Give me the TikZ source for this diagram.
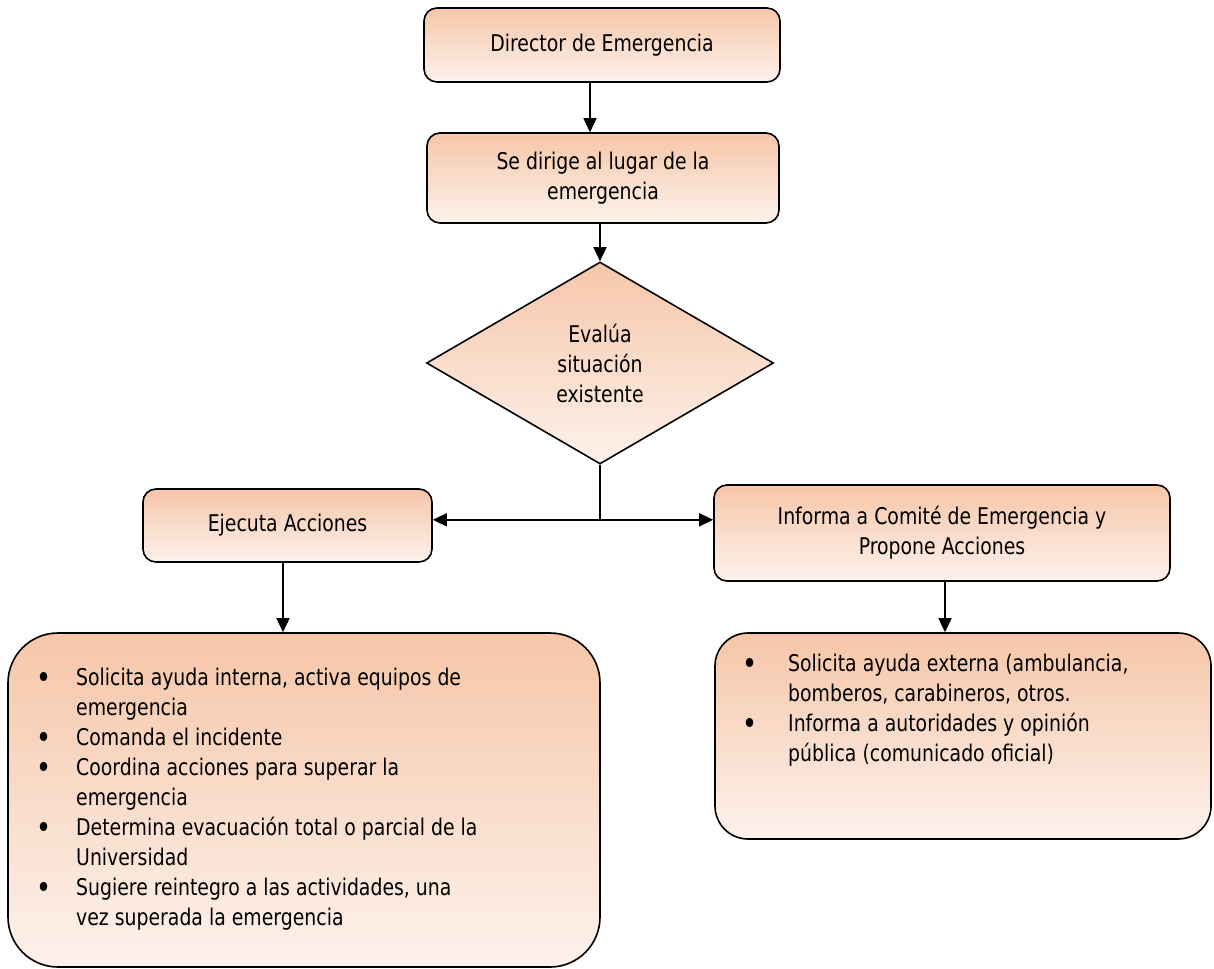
\documentclass[tikz,border=0pt]{standalone}
\usepackage{fontspec}
\setmainfont{DejaVu Sans}[FakeStretch=0.82]
\usetikzlibrary{arrows.meta,calc,positioning,shapes.geometric}

\definecolor{peachtop}{RGB}{246,198,168}
\definecolor{peachbot}{RGB}{253,242,236}

\newcommand{\bul}{\raisebox{-3pt}{\scalebox{1.35}{\textbullet}}}

\tikzset{
    stepbox/.style={draw, line width=1.6pt, rounded corners=13pt,
        top color=peachtop, bottom color=peachbot, align=center,
        inner sep=0pt, font=\fontsize{23pt}{30pt}\selectfont},
    listbox/.style={stepbox, rounded corners=#1},
    listtext/.style={anchor=north west, inner sep=0pt,
        font=\fontsize{23pt}{30pt}\selectfont},
    arr/.style={-{Triangle[length=14pt,width=13pt]}, line width=1.6pt}
}

\begin{document}
\begin{tikzpicture}[x=1pt, y=-1pt]

            % Frame
            \useasboundingbox (0,0) rectangle (1214,968);

            % Top boxes
            \node[stepbox, minimum width=356pt, minimum height=74pt] (director) at (602,45) {Director de Emergencia};
            \node[stepbox, minimum width=352pt, minimum height=90pt] (lugar) at (603,178) {Se dirige al lugar de la\\emergencia};

            % Decision
            \node[draw, diamond, line width=1.6pt, top color=peachtop, bottom color=peachbot,
                minimum width=347pt, minimum height=202pt, inner sep=0pt, align=center,
                font=\fontsize{23pt}{30pt}\selectfont] (evalua) at (600,363) {Evalúa\\situación\\existente};

            % Middle boxes
            \node[stepbox, minimum width=289pt, minimum height=73pt] (ejecuta) at (287.5,525.5) {Ejecuta Acciones};
            \node[stepbox, minimum width=456pt, minimum height=96pt] (informa) at (942,533) {Informa a Comité de Emergencia y\\Propone Acciones};

            % Lower boxes
            \node[listbox=50pt, minimum width=592pt, minimum height=334pt] (interna) at (304,800) {};
            \node[listbox=33pt, minimum width=496pt, minimum height=206pt] (externa) at (963,736) {};

            \node[listtext] (internatxt) at (36,664) {\begin{tabular}{@{}p{40pt}@{}l@{}}
                \bul & Solicita ayuda interna, activa equipos de\\
                     & emergencia\\
                \bul & Comanda el incidente\\
                \bul & Coordina acciones para superar la\\
                     & emergencia\\
                \bul & Determina evacuación total o parcial de la\\
                     & Universidad\\
                \bul & Sugiere reintegro a las actividades, una\\
                     & vez superada la emergencia
            \end{tabular}};

            \node[listtext] (externatxt) at (742,650) {\begin{tabular}{@{}p{46pt}@{}l@{}}
                \bul & Solicita ayuda externa (ambulancia,\\
                     & bomberos, carabineros, otros.\\
                \bul & Informa a autoridades y opinión\\
                     & pública (comunicado oficial)
            \end{tabular}};

            % Connectors
            \draw[arr] ([xshift=-12pt]director.south) -- ([xshift=-12pt]director.south |- lugar.north);
            \draw[arr] ([xshift=-3pt]lugar.south) -- (evalua.north);
            \coordinate (split) at ($(evalua.south)+(0,55)$);
            \draw[line width=1.6pt] (evalua.south) -- (split);
            \draw[arr] (split) -- (split -| ejecuta.east);
            \draw[arr] (split) -- (split -| informa.west);
            \draw[arr] ([xshift=-4.5pt]ejecuta.south) -- ([xshift=-4.5pt]ejecuta.south |- interna.north);
            \draw[arr] ([xshift=3pt]informa.south) -- ([xshift=3pt]informa.south |- externa.north);

        \end{tikzpicture}
\end{document}
